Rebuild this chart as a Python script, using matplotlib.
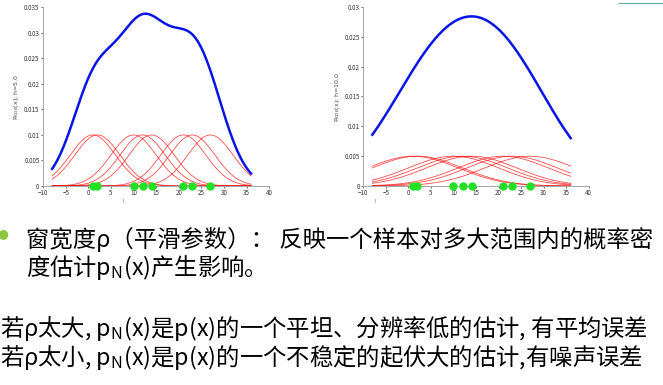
import numpy as np
import matplotlib
matplotlib.use('Agg')
import matplotlib.pyplot as plt

# sample points (green dots) and window widths of the two panels
samples = [1, 2, 10, 12, 14, 21, 23, 27]
widths = [5.0, 10.0]
x_range = [-8, 36]
ylims = [0.035, 0.03]
yticks = [[0, 0.005, 0.01, 0.015, 0.02, 0.025, 0.03, 0.035],
          [0, 0.005, 0.01, 0.015, 0.02, 0.025, 0.03]]
ylabels = ['P$_{KDE}$(x); h=5.0', 'P$_{KDE}$(x); h=10.0']
xticks = [-10, -5, 0, 5, 10, 15, 20, 25, 30, 35, 40]

lines = [
    '窗宽度ρ（平滑参数）： 反映一个样本对多大范围内的概率密',
    '度估计p$_\\mathregular{N}$(x)产生影响。',
    '若ρ太大, p$_\\mathregular{N}$(x)是p(x)的一个平坦、分辨率低的估计, 有平均误差',
    '若ρ太小, p$_\\mathregular{N}$(x)是p(x)的一个不稳定的起伏大的估计,有噪声误差',
]

plt.rcParams['font.family'] = ['Noto Sans CJK SC', 'DejaVu Sans']
plt.rcParams['mathtext.fontset'] = 'custom'
plt.rcParams['mathtext.rm'] = 'Noto Sans CJK SC'

fig = plt.figure(figsize=(6.63, 3.85), dpi=100)
positions = [[0.065, 0.517, 0.341, 0.465], [0.548, 0.517, 0.340, 0.465]]

x = np.linspace(x_range[0], x_range[1], 400)
n = len(samples)
for pos, h, ymax, yt, lab in zip(positions, widths, ylims, yticks, ylabels):
    ax = fig.add_axes(pos)
    total = np.zeros_like(x)
    for s in samples:
        k = np.exp(-0.5 * ((x - s) / h) ** 2) / (n * np.sqrt(2 * np.pi) * h)
        total += k
        ax.plot(x, k, color='red', lw=0.6, alpha=0.7)
    ax.plot(x, total, color='#0a14e6', lw=1.8)
    ax.plot(samples, [0] * n, 'o', color='#22e022', ms=5, clip_on=False, zorder=5)
    ax.set_xlim(-10, 40)
    ax.set_ylim(0, ymax)
    ax.set_xticks(xticks)
    ax.set_yticks(yt)
    ax.set_yticklabels([f'{v:g}' for v in yt])
    ax.tick_params(labelsize=4.5, length=1.5, width=0.5, pad=1, colors='#333333')
    ax.set_ylabel(lab, fontsize=4.5, labelpad=2, color='#444444',
                  family='DejaVu Sans')
    for side in ['top', 'right']:
        ax.spines[side].set_visible(False)
    for side in ['left', 'bottom']:
        ax.spines[side].set_color('#aaaaaa')
        ax.spines[side].set_linewidth(0.8)

# small teal rule in the top right corner
fig.add_artist(plt.Line2D([619 / 663, 1.0], [1 - 3 / 385] * 2, color='#66aaaa', lw=0.8))
# two faint marks below the panels
for mx in [123, 375]:
    fig.add_artist(plt.Line2D([mx / 663] * 2, [1 - 199 / 385, 1 - 202 / 385],
                              color='#bbbbbb', lw=0.8))

# bullet and text below the charts
fig.text(-0.004, 1 - 234 / 385, '●', color='#8cc63f', fontsize=9, va='center',
         family='DejaVu Sans')
ys = [239, 267, 328, 357]
xs = [26, 26, 0, 0]
for t, yy, xx in zip(lines, ys, xs):
    fig.text(xx / 663, 1 - yy / 385, t, fontsize=16.8, va='center', color='black')

fig.savefig('out.png', dpi=100)
